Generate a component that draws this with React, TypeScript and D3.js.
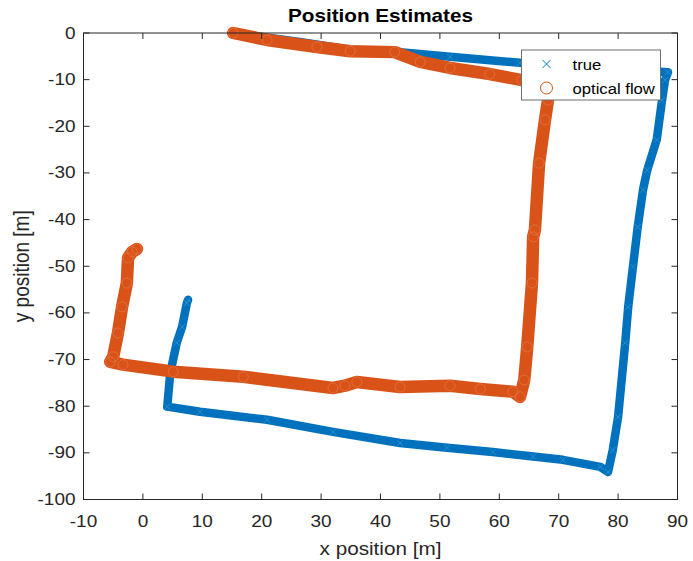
import React from "react";
import * as d3 from "d3";

const trueX = [15.2, 26.4, 34.9, 43.3, 51.7, 63.5, 77.0, 88.4, 87.9, 87.4, 86.5, 84.9, 84.2, 83.3, 82.5, 81.7, 81.2, 80.0, 79.1, 78.3, 77.0, 70.7, 65.7, 58.9, 51.2, 43.3, 32.0, 20.9, 9.6, 4.1, 4.6, 5.7, 6.6, 7.4, 7.6];
const trueY = [0, -1.9, -3.6, -4.1, -5.1, -6.4, -7.5, -8.4, -10.1, -14.4, -22.9, -29.4, -33.6, -41.6, -50.1, -58.7, -66.4, -82.3, -89.4, -94.1, -93.0, -91.5, -90.8, -89.8, -88.9, -87.9, -85.5, -82.9, -81.2, -80.1, -72.9, -66.4, -63.0, -57.9, -57.2];

const flowX = [15.2, 20.9, 29.3, 34.9, 42.4, 46.7, 51.7, 58.4, 63.8, 67.7, 68.2, 67.7, 66.7, 66.0, 65.7, 65.5, 64.7, 64.2, 63.5, 62.3, 56.8, 51.7, 43.3, 36.0, 34.0, 32.0, 16.9, 5.1, -3.35, -5.5, -5.0, -4.2, -3.5, -2.7, -2.5, -1.8, -1.0];
const flowY = [0, -1.5, -3.0, -3.9, -4.1, -6.2, -7.5, -8.8, -10.1, -10.9, -14.4, -18.6, -27.9, -42.2, -43.7, -53.6, -67.3, -74.4, -78.0, -76.9, -76.3, -75.6, -75.9, -74.8, -75.6, -76.1, -73.7, -72.6, -71.1, -70.5, -69.4, -64.3, -58.7, -53.6, -48.2, -46.9, -46.3];

const xTicks = [-10, 0, 10, 20, 30, 40, 50, 60, 70, 80, 90];
const yTicks = [0, -10, -20, -30, -40, -50, -60, -70, -80, -90, -100];
const seriesNames = ["true", "optical flow"];

const BLUE = "#0072BD";
const ORANGE = "#D95319";
const AX = "#262626";
const FONT = "'Liberation Sans', Arial, Helvetica, sans-serif";
const SX = 1.15;

function T(props: { x: number; y: number; anchor?: string; size: number; weight?: string; fill?: string; children: React.ReactNode }) {
  return (
    <text
      transform={`translate(${props.x},${props.y}) scale(${SX},1)`}
      textAnchor={props.anchor || "start"}
      fontSize={props.size}
      fontWeight={props.weight || "normal"}
      fill={props.fill || AX}
    >
      {props.children}
    </text>
  );
}

export default function App() {
  const W = 693, H = 561;
  const L = 83.5, R = 677.5, Tp = 33, B = 499.5;
  const x = d3.scaleLinear().domain([-10, 90]).range([L, R]);
  const y = d3.scaleLinear().domain([-100, 0]).range([B, Tp]);

  const truePts: [number, number][] = trueX.map((v, i) => [v, trueY[i]]);
  const flowPts: [number, number][] = flowX.map((v, i) => [v, flowY[i]]);
  const line = d3.line<[number, number]>().x(d => x(d[0])).y(d => y(d[1])).curve(d3.curveLinear);

  const cx = (L + R) / 2, cy = (Tp + B) / 2;
  const legR = R - 17, legL = legR - 139, legT = Tp + 17, legB = legT + 50;

  return (
    <svg width={W} height={H} style={{ position: "absolute", left: 0, top: 0, background: "#fff" }} fontFamily={FONT}>
      <rect x={0} y={0} width={W} height={H} fill="#fff" />
      <path d={line(truePts) || ""} fill="none" stroke={BLUE} strokeWidth={8.5} strokeLinejoin="round" strokeLinecap="round" />
      {truePts.map((p, i) => (
        <g key={"t" + i} transform={`translate(${x(p[0])},${y(p[1])})`} stroke="#4aa3dc" strokeWidth={0.8} opacity={0.7}>
          <line x1={-3} y1={-3} x2={3} y2={3} />
          <line x1={-3} y1={3} x2={3} y2={-3} />
        </g>
      ))}
      <path d={line(flowPts) || ""} fill="none" stroke={ORANGE} strokeWidth={12.5} strokeLinejoin="round" strokeLinecap="round" />
      {flowPts.map((p, i) => (
        <circle key={"f" + i} cx={x(p[0])} cy={y(p[1])} r={5} fill="none" stroke="#e98a5e" strokeWidth={0.8} opacity={0.6} />
      ))}
      <rect x={L} y={Tp} width={R - L} height={B - Tp} fill="none" stroke={AX} strokeWidth={1} />
      {xTicks.map(t => (
        <g key={"xt" + t}>
          <line x1={x(t)} x2={x(t)} y1={B} y2={B - 6} stroke={AX} />
          <line x1={x(t)} x2={x(t)} y1={Tp} y2={Tp + 6} stroke={AX} />
          <T x={x(t)} y={B + 27} anchor="middle" size={16.5}>{t}</T>
        </g>
      ))}
      {yTicks.map(t => (
        <g key={"yt" + t}>
          <line x1={L} x2={L + 6} y1={y(t)} y2={y(t)} stroke={AX} />
          <line x1={R} x2={R - 6} y1={y(t)} y2={y(t)} stroke={AX} />
          <T x={L - 8} y={y(t) + 5.5} anchor="end" size={16.5}>{t}</T>
        </g>
      ))}
      <T x={cx} y={22} anchor="middle" size={18} weight="bold" fill="#000">Position Estimates</T>
      <T x={cx} y={555} anchor="middle" size={18}>x position [m]</T>
      <text transform={`translate(29,${cy}) rotate(-90) scale(1,${SX})`} textAnchor="middle" fontSize={19} fill={AX}>y position [m]</text>
      <rect x={legL} y={legT} width={legR - legL} height={legB - legT} fill="#fff" stroke="#6e6e6e" strokeWidth={1} />
      <g transform={`translate(${legL + 25},${legT + 14})`} stroke={BLUE} strokeWidth={1}>
        <line x1={-4} y1={-4} x2={4} y2={4} />
        <line x1={-4} y1={4} x2={4} y2={-4} />
      </g>
      <T x={legL + 51} y={legT + 20} size={14.5} fill="#000">{seriesNames[0]}</T>
      <circle cx={legL + 25} cy={legT + 38} r={6} fill="none" stroke={ORANGE} strokeWidth={1} />
      <T x={legL + 51} y={legT + 44} size={14.5} fill="#000">{seriesNames[1]}</T>
    </svg>
  );
}
